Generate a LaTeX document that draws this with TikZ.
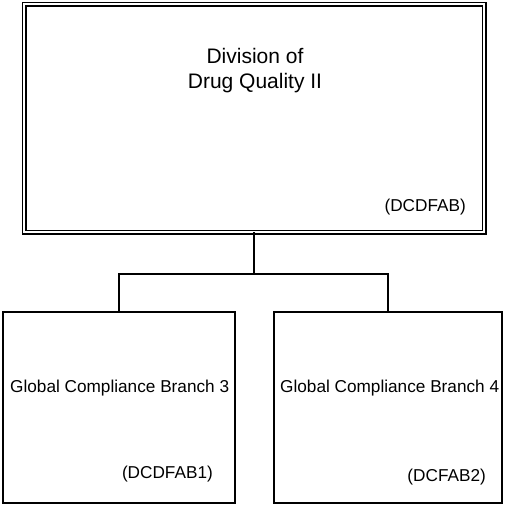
\documentclass[tikz,border=0pt]{standalone}
\usepackage{fontspec}
\setmainfont{Liberation Sans}
\begin{document}
\begin{tikzpicture}[x=1pt,y=-1pt,
  topbox/.style={draw=black, double, double distance=2.6pt, line width=1.2pt,
    minimum width=460pt, minimum height=228pt, inner sep=0pt, outer sep=0pt},
  subbox/.style={draw=black, line width=1.4pt, minimum width=232pt,
    minimum height=191pt, inner sep=0pt, outer sep=0pt},
  lbl/.style={inner sep=0pt, font=\fontsize{17.2}{20}\selectfont},
  conn/.style={draw=black, line width=1.4pt}]
\useasboundingbox (0,0) rectangle (504,506);
\node[topbox] (top) at (254,118) {};
\node[subbox] (left) at (119,407.5) {};
\node[subbox, minimum width=228pt] (right) at (388,407.5) {};
\node[inner sep=0pt, align=center, anchor=base, font=\fontsize{21}{25}\selectfont] (title) at (255,88) {Division of\\Drug Quality II};
\node[lbl, anchor=base east] (code) at (466,211) {(DCDFAB)};
\node[lbl, anchor=base west] (lt) at (10,392) {Global Compliance Branch 3};
\node[lbl, anchor=base east] (lc) at (213,478) {(DCDFAB1)};
\node[lbl, anchor=base west] (rt) at (280,392) {Global Compliance Branch 4};
\node[lbl, anchor=base east] (rc) at (486,481) {(DCFAB2)};
\coordinate (mid) at (254,274);
\draw[conn] (top.south) -- (mid);
\draw[conn] (mid) -| (left.north);
\draw[conn] (mid) -| (right.north);
\end{tikzpicture}
\end{document}
